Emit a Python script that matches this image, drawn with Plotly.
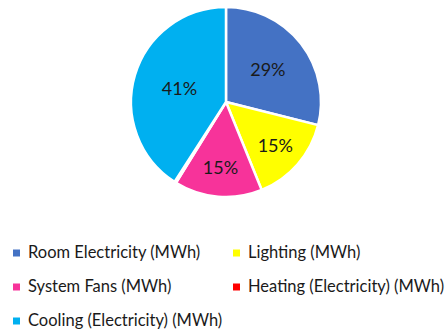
import plotly.graph_objects as go

# Annual energy use by end-use category
labels = [
    "Room Electricity (MWh)",
    "Lighting (MWh)",
    "System Fans (MWh)",
    "Heating (Electricity) (MWh)",
    "Cooling (Electricity) (MWh)",
]
values = [29, 15, 15, 0.3, 41]
colors = ["#4472C4", "#FFFF00", "#F7339A", "#FF0000", "#00B0F0"]

W, H = 445, 329
FONT = "Lato, Open Sans, sans-serif"

# heating share is too small to carry a label
templates = ["%{percent:.0%}"] * len(labels)
templates[3] = ""

fig = go.Figure(
    go.Pie(
        labels=labels,
        values=values,
        sort=False,
        direction="clockwise",
        rotation=0,
        marker=dict(colors=colors, line=dict(color="white", width=2.5)),
        texttemplate=templates,
        textposition="inside",
        insidetextorientation="horizontal",
        textfont=dict(family=FONT, size=18, color="#1a1a1a"),
        domain=dict(x=[0.2944, 0.7213], y=[0.4012, 0.9787]),
        hoverinfo="label+percent",
        showlegend=False,
    )
)

# two-column legend below the pie: small square swatch + label
col_marker_x = [16.5, 236.5]
col_text_x = [26, 246]
row_y = [253, 287, 321]
sw = 7
shapes, annotations = [], []
for i, (lab, col) in enumerate(zip(labels, colors)):
    r, c = divmod(i, 2)
    cx, cy = col_marker_x[c], row_y[r]
    shapes.append(dict(
        type="rect", xref="paper", yref="paper",
        x0=(cx - sw / 2) / W, x1=(cx + sw / 2) / W,
        y0=1 - (cy + sw / 2) / H, y1=1 - (cy - sw / 2) / H,
        fillcolor=col, line=dict(width=0),
    ))
    annotations.append(dict(
        xref="paper", yref="paper",
        x=col_text_x[c] / W, y=1 - (cy - 1) / H,
        xanchor="left", yanchor="middle",
        text=lab, showarrow=False,
        font=dict(family=FONT, size=16.5, color="#1a1a1a"),
    ))

fig.update_layout(
    width=W,
    height=H,
    margin=dict(l=0, r=0, t=0, b=0),
    paper_bgcolor="white",
    plot_bgcolor="white",
    shapes=shapes,
    annotations=annotations,
)

fig.write_html("out.html")
